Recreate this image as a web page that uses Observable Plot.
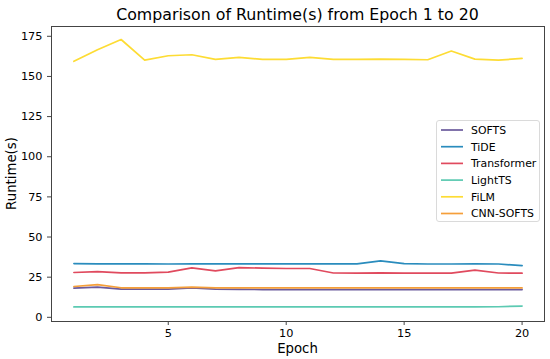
<!DOCTYPE html>
<html>
<head>
<meta charset="utf-8">
<script src="https://cdn.jsdelivr.net/npm/d3@7"></script>
<script src="https://cdn.jsdelivr.net/npm/@observablehq/plot@0.6"></script>
<style>
  html, body { margin: 0; padding: 0; background: #fff; }
  #chart svg { display: block; }
</style>
</head>
<body>
<div id="chart"></div>
<script>
const epochs = d3.range(1, 21);
const seriesNames = ["SOFTS", "TiDE", "Transformer", "LightTS", "FiLM", "CNN-SOFTS"];
const seriesColors = ["#6b5a9c", "#2a8cbd", "#e04a5e", "#5ccab2", "#fddc34", "#f59f3a"];

const softs = [18.2, 18.8, 17.6, 17.6, 17.6, 18.4, 17.6, 17.4, 17.3, 17.3, 17.3, 17.3, 17.3, 17.3, 17.3, 17.3, 17.3, 17.3, 17.3, 17.3];
const tide = [33.5, 33.3, 33.3, 33.3, 33.2, 33.3, 33.3, 33.3, 33.3, 33.3, 33.3, 33.3, 33.3, 35.2, 33.4, 33.2, 33.2, 33.3, 33.2, 32.2];
const transformer = [27.9, 28.5, 27.7, 27.7, 28.1, 30.8, 28.9, 31.0, 30.6, 30.4, 30.4, 27.6, 27.5, 27.7, 27.5, 27.5, 27.5, 29.4, 27.6, 27.5];
const lightts = [6.5, 6.5, 6.5, 6.5, 6.5, 6.5, 6.5, 6.5, 6.5, 6.5, 6.5, 6.5, 6.5, 6.5, 6.5, 6.5, 6.5, 6.5, 6.6, 7.0];
const film = [159.4, 166.6, 173.0, 160.2, 162.9, 163.5, 160.6, 161.9, 160.6, 160.6, 161.9, 160.6, 160.6, 160.8, 160.6, 160.4, 165.8, 160.8, 160.2, 161.2];
const cnnSofts = [19.2, 20.4, 18.4, 18.4, 18.4, 18.8, 18.4, 18.4, 18.3, 18.3, 18.3, 18.3, 18.3, 18.3, 18.3, 18.3, 18.3, 18.3, 18.3, 18.3];

const xTicks = [5, 10, 15, 20];
const yTicks = [0, 25, 50, 75, 100, 125, 150, 175];
const titleText = "Comparison of Runtime(s) from Epoch 1 to 20";
const xLabel = "Epoch";
const yLabel = "Runtime(s)";

const valuesBySeries = [softs, tide, transformer, lightts, film, cnnSofts];
const rows = [];
seriesNames.forEach((name, i) => {
  valuesBySeries[i].forEach((v, j) => rows.push({series: name, epoch: epochs[j], value: v}));
});

const W = 550, H = 359;
const mL = 51, mR = 6, mT = 26, mB = 38;
const font = "DejaVu Sans, sans-serif";

const plot = Plot.plot({
  width: W,
  height: H,
  marginLeft: mL,
  marginRight: mR,
  marginTop: mT,
  marginBottom: mB,
  style: {fontFamily: font, fontSize: "11.3px", color: "#000", background: "#fff"},
  x: {domain: [0.05, 20.95], ticks: xTicks, tickSize: 4, tickPadding: 3, label: null},
  y: {domain: [-2.6, 181.1], ticks: yTicks, tickSize: 4, tickPadding: 5, label: null},
  color: {domain: seriesNames, range: seriesColors},
  marks: [
    Plot.lineY(rows, {x: "epoch", y: "value", z: "series", stroke: "series", strokeWidth: 1.7}),
    Plot.frame({stroke: "#444", strokeWidth: 1}),
    Plot.axisX({ticks: xTicks, tickSize: 4, tickPadding: 3, stroke: "#444", fill: "#000", label: null}),
    Plot.axisY({ticks: yTicks, tickSize: 4, tickPadding: 5, stroke: "#444", fill: "#000", label: null})
  ]
});

document.getElementById("chart").appendChild(plot);

const svg = d3.select(plot);
const cx = mL + (W - mL - mR) / 2;
const cy = mT + (H - mT - mB) / 2;

svg.append("text")
  .attr("x", cx).attr("y", 20)
  .attr("text-anchor", "middle")
  .style("font-family", font).style("font-size", "15.8px").attr("fill", "#000")
  .text(titleText);

svg.append("text")
  .attr("x", cx).attr("y", 353)
  .attr("text-anchor", "middle")
  .style("font-family", font).style("font-size", "13.3px").attr("fill", "#000")
  .text(xLabel);

svg.append("text")
  .attr("transform", `translate(16,${cy}) rotate(-90)`)
  .attr("text-anchor", "middle")
  .style("font-family", font).style("font-size", "13.3px").attr("fill", "#000")
  .text(yLabel);

// legend
const lg = svg.append("g");
lg.append("rect")
  .attr("x", 436.5).attr("y", 120.5).attr("width", 103).attr("height", 101)
  .attr("rx", 2.5)
  .attr("fill", "#fff").attr("fill-opacity", 0.8)
  .attr("stroke", "#d6d6d6").attr("stroke-width", 0.9);
seriesNames.forEach((name, i) => {
  const y = 130 + i * 16.7;
  lg.append("line")
    .attr("x1", 441).attr("x2", 463).attr("y1", y).attr("y2", y)
    .attr("stroke", seriesColors[i]).attr("stroke-width", 1.7);
  lg.append("text")
    .attr("x", 471).attr("y", y).attr("dy", "0.36em")
    .attr("text-anchor", "start")
    .style("font-family", font).style("font-size", "10.9px").attr("fill", "#000")
    .text(name);
});
</script>
</body>
</html>
